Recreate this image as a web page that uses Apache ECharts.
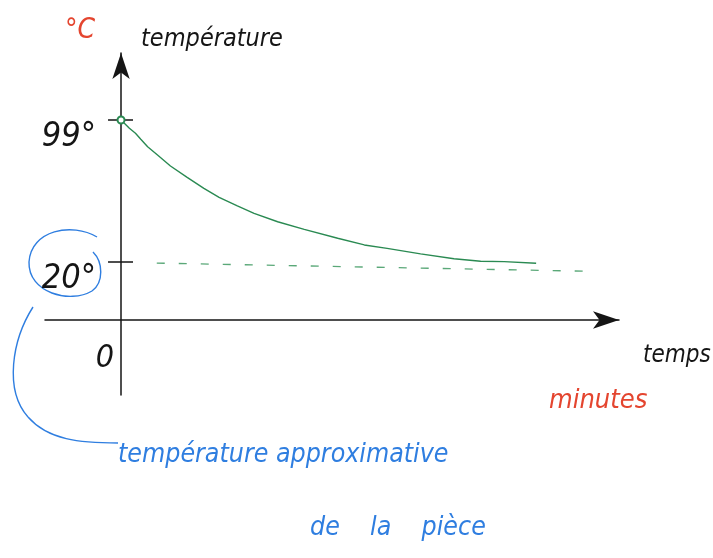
<!DOCTYPE html>
<html>
<head>
<meta charset="utf-8">
<script src="https://cdn.jsdelivr.net/npm/echarts@6/dist/echarts.min.js"></script>
<style>
  html, body { margin: 0; padding: 0; background: #fff; }
  #chart { width: 713px; height: 558px; }
</style>
</head>
<body>
<div id="chart"></div>
<script>
// Cooling curve: minutes elapsed and temperature in °C
const minutes = [0, 1.1, 1.9, 2.6, 3.5, 4.8, 6.5, 8.7, 10.9, 12.9, 15.3, 17.5, 20.6, 24.1, 28.5, 32.0, 35.0, 39.4, 43.8, 47.3, 50.4, 54.6];
const temperature = [99, 94.4, 91.6, 88.3, 84.1, 79.5, 73.4, 67.1, 61.0, 56.0, 51.2, 47.1, 42.4, 38.2, 33.2, 29.5, 27.6, 24.5, 21.8, 20.4, 20.2, 19.3];

// Approximate room temperature, drawn as a dashed guide
const roomMinutes = [4.7, 60.9];
const roomTemperature = [19.4, 14.9];

// Marked values on the axes
const yTicks = [99, 20];
const xTicks = [0];

const HAND = "'Liberation Sans Narrow', 'DejaVu Sans Condensed', 'Liberation Sans', sans-serif";
const INK = '#151515';
const RED = '#e4452f';
const BLUE = '#2f7ee0';
const GREEN = '#2a8a52';

const GRID_LEFT = 45;
const GRID_RIGHT = 94;
const X_MIN = -10;
const X_MAX = 65.5;
const Y_MIN = -54;
const Y_MAX = 136.3;

const chart = echarts.init(document.getElementById('chart'), null, { renderer: 'canvas' });

// pixel distance from the grid's left edge to the time origin
const plotWidth = 713 - GRID_LEFT - GRID_RIGHT;
const originShift = plotWidth * (0 - X_MIN) / (X_MAX - X_MIN);

const curveData = minutes.map((m, i) => {
  const point = [m, temperature[i]];
  return i === 0 ? { value: point, symbol: 'emptyCircle', symbolSize: 7 } : point;
});
const roomData = roomMinutes.map((m, i) => [m, roomTemperature[i]]);

const handText = (size, color) => ({
  fontFamily: HAND, fontStyle: 'italic', fontSize: size, color: color
});

// a blue pen stroke made of one cubic segment
const stroke = (x1, y1, cpx1, cpy1, cpx2, cpy2, x2, y2) => ({
  type: 'bezierCurve',
  shape: { x1, y1, cpx1, cpy1, cpx2, cpy2, x2, y2 },
  style: { fill: null, stroke: BLUE, lineWidth: 1.4 }
});

const note = (text, x, y, size, color) => ({
  type: 'text', x, y,
  style: { text, fontFamily: HAND, fontStyle: 'italic', fontSize: size, fill: color, align: 'left', verticalAlign: 'middle' }
});

chart.setOption({
  animation: false,
  backgroundColor: '#fff',
  grid: { left: GRID_LEFT, right: GRID_RIGHT, top: 53, bottom: 163, containLabel: false, outerBoundsMode: 'none' },
  xAxis: {
    type: 'value', min: X_MIN, max: X_MAX, offset: -75,
    axisLine: {
      onZero: false, symbol: ['none', 'arrow'], symbolSize: [13, 26],
      lineStyle: { color: INK, width: 1.5 }
    },
    axisTick: { show: false },
    splitLine: { show: false },
    axisLabel: Object.assign(handText(32, INK), {
      customValues: xTicks, formatter: v => String(v),
      align: 'right', margin: 23, padding: [0, 7, 0, 0]
    })
  },
  yAxis: [
    {
      // temperature axis, moved onto the time origin
      type: 'value', min: Y_MIN, max: Y_MAX, position: 'left', offset: -originShift,
      axisLine: {
        onZero: false, symbol: ['none', 'arrow'], symbolSize: [13, 26],
        lineStyle: { color: INK, width: 1.5 }
      },
      axisTick: { show: true, customValues: yTicks, length: 13, lineStyle: { color: INK, width: 1.5 } },
      splitLine: { show: false },
      axisLabel: Object.assign(handText(34, INK), {
        customValues: yTicks, formatter: '{value}°', margin: 25, verticalAlign: 'top'
      }),
      name: 'température', nameLocation: 'end', nameGap: 14,
      nameTextStyle: Object.assign(handText(25, INK), { align: 'left', verticalAlign: 'middle', padding: [0, 0, 0, 20] })
    },
    {
      // right-hand half of the crossing ticks
      type: 'value', min: Y_MIN, max: Y_MAX, position: 'left', offset: -originShift,
      axisLine: { show: false, onZero: false },
      axisTick: { show: true, inside: true, customValues: yTicks, length: 12, lineStyle: { color: INK, width: 1.5 } },
      axisLabel: { show: false },
      splitLine: { show: false }
    }
  ],
  series: [
    {
      name: 'refroidissement', type: 'line', data: curveData, smooth: false,
      symbol: 'none', showSymbol: true,
      itemStyle: { color: GREEN, borderWidth: 1.3 },
      lineStyle: { color: GREEN, width: 1.4 }
    },
    {
      name: 'pièce', type: 'line', data: roomData, symbol: 'none',
      lineStyle: { color: '#5aa878', width: 1.3, type: [8, 14] }
    }
  ],
  graphic: [
    note('°C', 65, 31, 28, RED),
    note('temps', 643, 356, 24, INK),
    note('minutes', 549, 401, 27, RED),
    note('température approximative', 118, 455, 26.5, BLUE),
    note('de    la    pièce', 310, 528, 26.5, BLUE),
    // loop around the room temperature value
    stroke(97, 237, 72, 222, 31, 230, 29, 262),
    stroke(29, 262, 28, 293, 70, 304, 92, 291),
    stroke(92, 291, 104, 282, 103, 262, 93, 252),
    // connector from the loop down to the note
    stroke(33, 307, 12, 340, 4, 390, 28, 417),
    stroke(28, 417, 48, 440, 80, 443, 118, 443)
  ]
});
</script>
</body>
</html>
